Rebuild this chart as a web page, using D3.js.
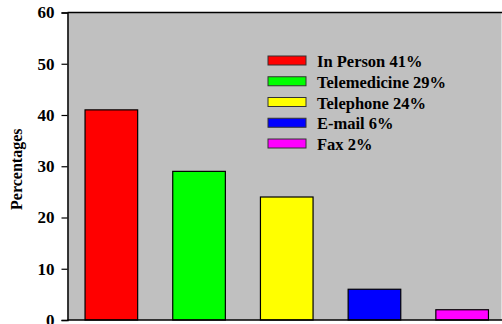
<!DOCTYPE html>
<html>
<head>
<meta charset="utf-8">
<script src="https://cdn.jsdelivr.net/npm/d3@7"></script>
<style>
  html, body { margin: 0; padding: 0; background: #ffffff; }
  svg { display: block; }
</style>
</head>
<body>
<svg id="chart" width="502" height="324"></svg>
<script>
// Contact modes and their shares
const categories = ["In Person", "Telemedicine", "Telephone", "E-mail", "Fax"];
const values = [41, 29, 24, 6, 2];
const colors = ["#ff0000", "#00ff00", "#ffff00", "#0000ff", "#ff00ff"];
const yTicks = [0, 10, 20, 30, 40, 50, 60];
const legendLabels = ["In Person 41%", "Telemedicine 29%", "Telephone 24%", "E-mail 6%", "Fax 2%"];

const FONT = "'Liberation Serif', 'Times New Roman', Times, serif";
const svg = d3.select("#chart");
const plotLeft = 67.5, plotTop = 12.5, plotBottom = 320, plotRight = 501.5;

const x = d3.scaleBand()
  .domain(categories)
  .range([plotLeft, 506])
  .paddingInner(0.4)
  .paddingOuter(0.2);

const y = d3.scaleLinear().domain([0, 60]).range([plotBottom, plotTop]);

// plot background
svg.append("rect")
  .attr("x", plotLeft).attr("y", plotTop)
  .attr("width", plotRight - plotLeft).attr("height", plotBottom - plotTop)
  .attr("fill", "#c0c0c0");

// top frame line
svg.append("line")
  .attr("x1", plotLeft).attr("x2", 502)
  .attr("y1", plotTop).attr("y2", plotTop)
  .attr("stroke", "#000").attr("stroke-width", 1.5);

// bars
svg.append("g").selectAll("rect")
  .data(categories)
  .join("rect")
  .attr("x", d => x(d))
  .attr("y", (d, i) => y(values[i]))
  .attr("width", x.bandwidth())
  .attr("height", (d, i) => y(0) - y(values[i]))
  .attr("fill", (d, i) => colors[i])
  .attr("stroke", "#000")
  .attr("stroke-width", 1.2);

// y axis
const yAxis = svg.append("g")
  .attr("transform", `translate(${plotLeft},0)`)
  .call(d3.axisLeft(y).tickValues(yTicks).tickSize(6).tickPadding(7).tickFormat(d3.format("d")));
yAxis.attr("font-family", null).attr("font-size", null);
yAxis.select(".domain").attr("stroke", "#000").attr("stroke-width", 1.5);
yAxis.selectAll(".tick line").attr("stroke", "#000").attr("stroke-width", 1.2);
yAxis.selectAll(".tick text")
  .style("font-family", FONT)
  .style("font-weight", "bold")
  .style("font-size", "17px")
  .attr("fill", "#000");

// x axis baseline
svg.append("line")
  .attr("x1", plotLeft).attr("x2", 502)
  .attr("y1", plotBottom).attr("y2", plotBottom)
  .attr("stroke", "#000").attr("stroke-width", 1.5);

// y axis title
svg.append("text")
  .attr("transform", `translate(22,${(plotTop + plotBottom) / 2 + 3}) rotate(-90)`)
  .attr("text-anchor", "middle")
  .style("font-family", FONT)
  .style("font-weight", "bold")
  .style("font-size", "16px")
  .text("Percentages");

// legend
const legend = svg.append("g").attr("transform", "translate(268,56)");
const rows = legend.selectAll("g")
  .data(legendLabels)
  .join("g")
  .attr("transform", (d, i) => `translate(0,${i * 20.75})`);
rows.append("rect")
  .attr("width", 38).attr("height", 9)
  .attr("fill", (d, i) => colors[i])
  .attr("stroke", "#333").attr("stroke-width", 1);
rows.append("text")
  .attr("x", 49).attr("y", 11)
  .style("font-family", FONT)
  .style("font-weight", "bold")
  .style("font-size", "16.5px")
  .text(d => d);
</script>
</body>
</html>
